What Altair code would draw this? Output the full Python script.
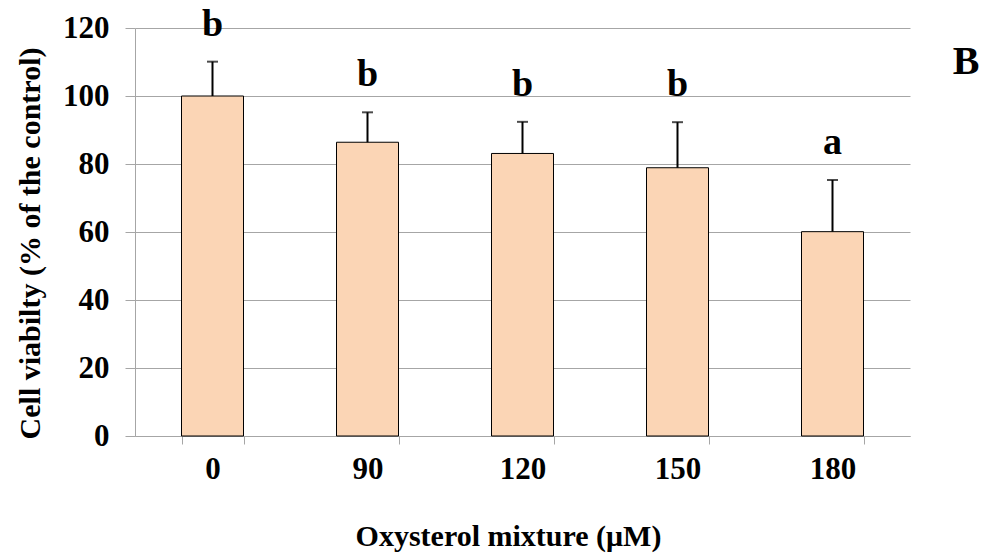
import altair as alt
import pandas as pd

# Cell viability after exposure to the oxysterol mixture
concentrations = ["0", "90", "120", "150", "180"]
viability = [100.0, 86.4, 83.1, 78.9, 60.1]
sd = [10.1, 8.8, 9.3, 13.4, 15.2]
letters = ["b", "b", "b", "b", "a"]

df = pd.DataFrame({
    "conc": concentrations,
    "viability": viability,
    "sd": sd,
    "letter": letters,
})

FONT = "'Liberation Serif', 'Times New Roman', serif"
GRID = "#a6a6a6"

x = alt.X(
    "conc:N",
    sort=concentrations,
    scale=alt.Scale(paddingInner=0.6, paddingOuter=0.3),
    axis=alt.Axis(
        title="Oxysterol mixture (\u03bcM)",
        labelAngle=0,
        labelFont=FONT, labelFontSize=31, labelFontWeight="bold", labelColor="black",
        labelPadding=10,
        titleFont=FONT, titleFontSize=30, titleFontWeight="bold", titleColor="black",
        titleX=373, titleY=100, titleBaseline="middle",
        tickBand="extent", tickSize=8, tickColor=GRID, domainColor=GRID,
        grid=False,
    ),
)

y = alt.Y(
    "viability:Q",
    scale=alt.Scale(domain=[0, 120]),
    axis=alt.Axis(
        title="Cell viabilty (% of the control)",
        values=[0, 20, 40, 60, 80, 100, 120],
        labelFont=FONT, labelFontSize=31, labelFontWeight="bold", labelColor="black",
        labelPadding=16,
        titleFont=FONT, titleFontSize=30, titleFontWeight="bold", titleColor="black",
        titleX=-105, titleY=215, titleBaseline="middle", titleAlign="center",
        tickSize=10, tickColor=GRID, domainColor=GRID,
        grid=True, gridColor=GRID, gridWidth=1,
    ),
)

base = alt.Chart(df).transform_calculate(upper="datum.viability + datum.sd")

bars = base.mark_bar(fill="#fbd5b5", stroke="black", strokeWidth=1).encode(x=x, y=y)

err = base.mark_rule(color="black", strokeWidth=2).encode(
    x=alt.X("conc:N", sort=concentrations),
    y="viability:Q",
    y2="upper:Q",
)

caps = base.mark_tick(color="black", thickness=2, size=11, orient="horizontal").encode(
    x=alt.X("conc:N", sort=concentrations),
    y="upper:Q",
)

labels = base.mark_text(
    font=FONT, fontSize=38, fontWeight="bold", color="black", baseline="alphabetic", dy=-26
).encode(
    x=alt.X("conc:N", sort=concentrations),
    y="upper:Q",
    text="letter:N",
)

panel = alt.Chart(df).mark_text(
    font=FONT, fontSize=40, fontWeight="bold", color="black", align="center", baseline="middle"
).encode(
    x=alt.value(831), y=alt.value(34), text=alt.value("B")
).transform_filter("datum.conc == '0'")

chart = (
    alt.layer(bars, err, caps, labels, panel)
    .properties(
        width=775,
        height=408,
        autosize=alt.AutoSizeParams(type="none"),
        padding={"left": 135, "top": 28, "right": 76, "bottom": 118},
        background="white",
    )
    .configure_view(stroke=None)
)

chart.save("out.html", embed_options={"renderer": "svg", "actions": False})
